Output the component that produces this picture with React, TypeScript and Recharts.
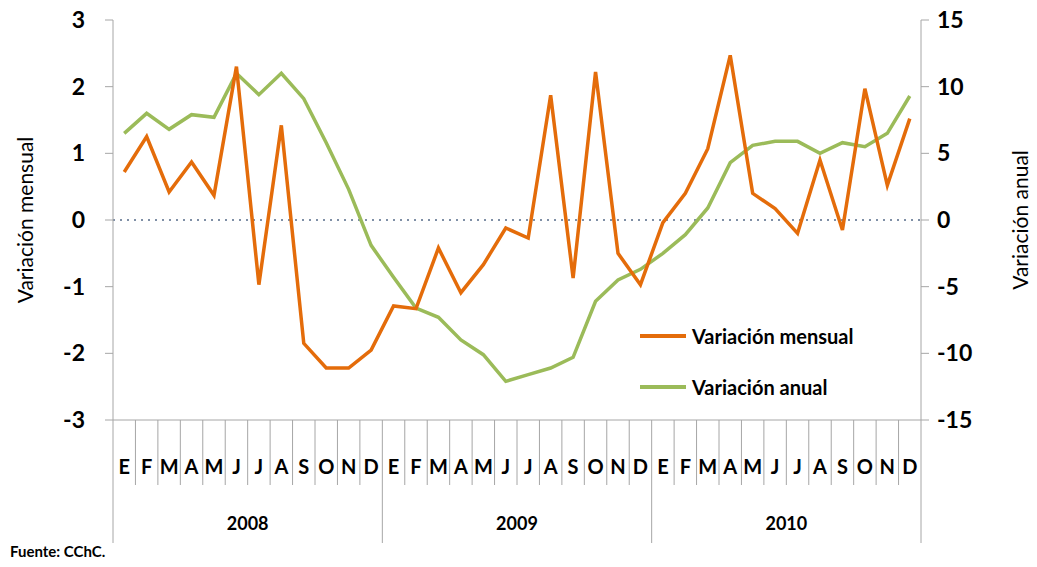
import { ComposedChart, Line, XAxis, YAxis, ReferenceLine } from "recharts";

const months = ["E", "F", "M", "A", "M", "J", "J", "A", "S", "O", "N", "D"];
const years = ["2008", "2009", "2010"];

// variación mensual (%), eje izquierdo
const mensual = [
  0.72, 1.25, 0.42, 0.87, 0.37, 2.3, -0.97, 1.42, -1.85, -2.22, -2.22, -1.95,
  -1.29, -1.33, -0.42, -1.09, -0.67, -0.12, -0.27, 1.87, -0.87, 2.22, -0.5, -0.97,
  -0.04, 0.4, 1.07, 2.47, 0.4, 0.17, -0.2, 0.9, -0.15, 1.97, 0.52, 1.52,
];

// variación anual (%), eje derecho
const anual = [
  6.5, 8.0, 6.8, 7.9, 7.7, 11.0, 9.4, 11.0, 9.1, 5.8, 2.3, -1.9,
  -4.3, -6.6, -7.3, -9.0, -10.1, -12.1, -11.6, -11.1, -10.3, -6.1, -4.5, -3.7,
  -2.5, -1.1, 0.9, 4.3, 5.6, 5.9, 5.9, 5.0, 5.8, 5.5, 6.5, 9.3,
];

const leftTicks = [-3, -2, -1, 0, 1, 2, 3];
const rightTicks = [-15, -10, -5, 0, 5, 10, 15];

const ORANGE = "#E46C0A";
const GREEN = "#9BBB59";
const AXIS = "#a6a6a6";
const FONT = "Lato, 'Open Sans', sans-serif";

const data = years.flatMap((yr, yi) =>
  months.map((m, mi) => ({
    key: `${yr}-${mi}`,
    mes: m,
    anio: yr,
    mensual: mensual[yi * 12 + mi],
    anual: anual[yi * 12 + mi],
  }))
);

function MonthTick(props: any) {
  const { x, y, payload } = props;
  const i = payload.index;
  const d = data[i];
  const half = payload.offset || 0;
  const mi = i % 12;
  const left = x - half;
  const right = x + half;
  return (
    <g>
      <line x1={left} x2={left} y1={y} y2={mi === 0 ? y + 123 : y + 65} stroke={AXIS} strokeWidth={1} />
      {i === data.length - 1 && <line x1={right} x2={right} y1={y} y2={y + 123} stroke={AXIS} strokeWidth={1} />}
      <text x={x} y={y + 54} textAnchor="middle" fontSize={20} fontWeight={700} fill="#000" fontFamily={FONT}>
        {d.mes}
      </text>
      {mi === 6 && (
        <text x={left} y={y + 110} textAnchor="middle" fontSize={18} fontWeight={700} fill="#000" fontFamily={FONT}>
          {d.anio}
        </text>
      )}
    </g>
  );
}

function AxisTitle(props: any) {
  const { viewBox, text, side } = props;
  const cx = side === "left" ? viewBox.x + 28 : viewBox.x + viewBox.width - 14;
  const cy = viewBox.y + viewBox.height / 2;
  return (
    <text
      x={cx}
      y={cy}
      transform={`rotate(-90, ${cx}, ${cy})`}
      textAnchor="middle"
      dominantBaseline="middle"
      fontSize={21}
      fill="#000"
      fontFamily={FONT}
    >
      {text}
    </text>
  );
}

const legendItems = [
  { label: "Variación mensual", color: ORANGE },
  { label: "Variación anual", color: GREEN },
];

export default function App() {
  const tickStyle = { fill: "#000", fontSize: 23, fontWeight: 700, fontFamily: FONT };
  return (
    <div style={{ position: "absolute", left: 0, top: 0, width: 1037, height: 567, background: "#fff" }}>
      <ComposedChart width={1037} height={567} data={data} margin={{ top: 20, right: 0, left: 0, bottom: 0 }}>
        <XAxis
          dataKey="key"
          scale="band"
          height={147}
          interval={0}
          tickSize={0}
          tickMargin={0}
          axisLine={{ stroke: AXIS }}
          tickLine={false}
          tick={<MonthTick />}
        />
        <YAxis
          yAxisId="left"
          width={113}
          domain={[-3, 3]}
          ticks={leftTicks}
          axisLine={{ stroke: AXIS }}
          tickLine={{ stroke: AXIS }}
          tickSize={8}
          tickMargin={20}
          tick={tickStyle}
          label={<AxisTitle text="Variación mensual" side="left" />}
        />
        <YAxis
          yAxisId="right"
          orientation="right"
          width={116}
          domain={[-15, 15]}
          ticks={rightTicks}
          axisLine={{ stroke: AXIS }}
          tickLine={{ stroke: AXIS }}
          tickSize={8}
          tickMargin={8}
          tick={tickStyle}
          label={<AxisTitle text="Variación anual" side="right" />}
        />
        <ReferenceLine yAxisId="left" y={0} stroke="#7f8fa6" strokeWidth={2} strokeDasharray="2 5" />
        <Line
          yAxisId="right"
          type="linear"
          dataKey="anual"
          stroke={GREEN}
          strokeWidth={3.5}
          dot={false}
          isAnimationActive={false}
        />
        <Line
          yAxisId="left"
          type="linear"
          dataKey="mensual"
          stroke={ORANGE}
          strokeWidth={3.5}
          dot={false}
          isAnimationActive={false}
        />
      </ComposedChart>
      <div style={{ position: "absolute", left: 640, top: 310, fontFamily: FONT }}>
        {legendItems.map((it) => (
          <div key={it.label} style={{ display: "flex", alignItems: "center", height: 51 }}>
            <div style={{ width: 46, height: 4, background: it.color, marginRight: 6 }} />
            <span style={{ fontSize: 20, fontWeight: 700, color: "#000" }}>{it.label}</span>
          </div>
        ))}
      </div>
      <div
        style={{
          position: "absolute",
          left: 10,
          top: 542,
          fontFamily: FONT,
          fontSize: 15,
          fontWeight: 700,
          color: "#000",
        }}
      >
        Fuente: CChC.
      </div>
    </div>
  );
}
